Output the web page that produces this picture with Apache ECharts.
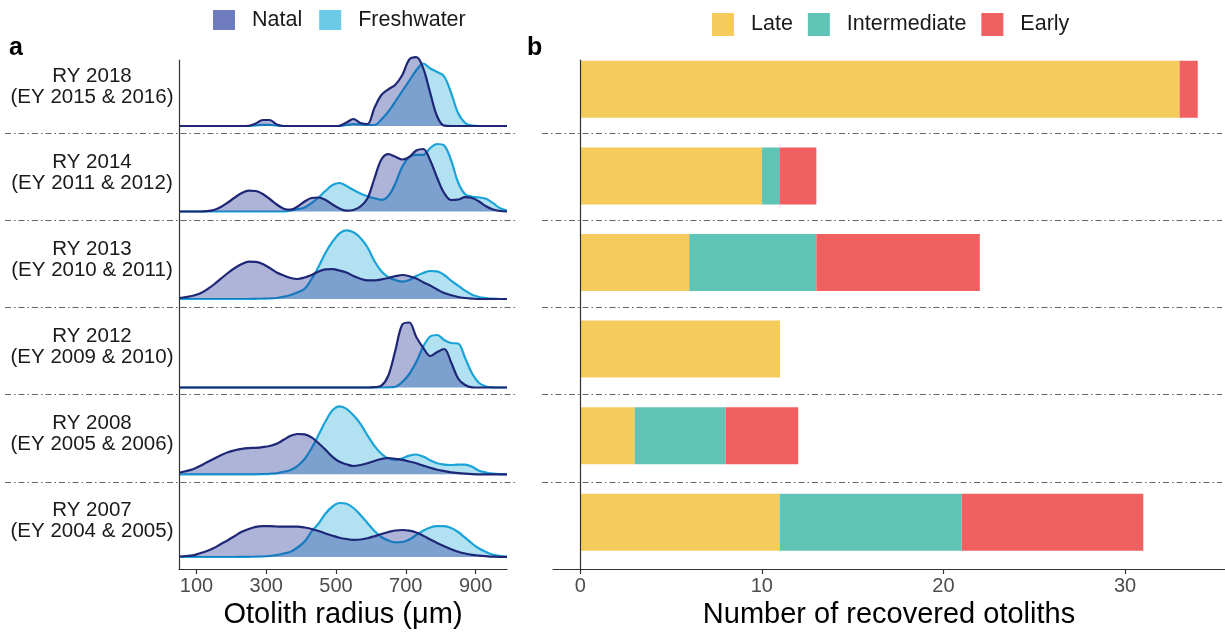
<!DOCTYPE html>
<html><head><meta charset="utf-8">
<script src="https://cdn.jsdelivr.net/npm/echarts@6/dist/echarts.min.js"></script>
<style>html,body{margin:0;padding:0;background:#fff}#c{width:1225px;height:635px}</style>
</head><body><div id="c"></div>
<script>
// ---------------- DATA ----------------
const rowLabels = [
  'RY 2018\n(EY 2015 & 2016)',
  'RY 2014\n(EY 2011 & 2012)',
  'RY 2013\n(EY 2010 & 2011)',
  'RY 2012\n(EY 2009 & 2010)',
  'RY 2008\n(EY 2005 & 2006)',
  'RY 2007\n(EY 2004 & 2005)'
];
const radiusTicks = [100, 300, 500, 700, 900];
const countTicks = [0, 10, 20, 30];
// otolith radius grid (µm) at which the densities were read
const radius = [50,70,90,110,130,150,170,190,210,230,250,270,290,310,330,350,370,390,410,430,450,470,490,510,530,550,570,590,610,630,650,670,690,710,730,750,770,790,810,830,850,870,890,910,930,950,970,990];

// relative density heights
const natal2018 = [0,0,0,0,0,0,0,0,0,0, 0.2,2.5,6,6,1.5,0,0,0,0,0, 0,0,0,0.2,3.5,7,3,2,18,31, 36.7,41.3,51,66.5,68.8,57.7,33,9.5,0.3,0, 0,0,0,0,0,0,0,0];
const fresh2018 = [0,0,0,0,0,0,0,0,0,0,0, 0.5,1.2,1.2,0.3, 0,0,0,0,0,0,0,0,0, 1,2,1.5,1,1,6.5,14.3,24.5,35,45.3,55.7,62.5,57.5,54,49.5,33,12.7,3,0.3, 0,0,0,0,0];
const natal2014 = [0,0,0,0,0.3,1.5,4.5,9,14,18.5, 20.8,20.5,17.5,12.5,7,2.8,1.8,5,10,13.5, 14,11.5,7,3,0.8,1.5,5,13,33,52, 57.3,54.8,52,54.5,61,62.5,51,33.5,18.5,11.5, 12,14.3,13.5,10,5.2,2,0.5,0];
const fresh2014 = [0,0,0,0,0,0,0,0,0,0,0,0,0,0, 0,0,1,2.3,4,8.5,14,20.7,26.5,28.5, 25.5,21.5,18,15.3,13.3,11.7,15.5,28,45,54.5, 56.7,56.7,63.5,67.5,66,51,29,17.3,14.8,14, 12.7,8.3,3.3,1];
const natal2013 = [1,2,3.3,5.5,9.5,14.5,20.3,26,31,35, 37.3,37.2,35,31,26.5,23.5,21,20,21.5,24, 27.5,29.7,29.8,28.5,26.5,23,20.3,18.6,18.7,19.6, 21,22.8,24,22.8,20.5,16.8,13.5,9.5,6,3.8, 2,1,0.4,0,0,0,0,0];
const fresh2013 = [0,0,0,0,0,0,0,0,0,0, 0,0.2,0.3,0.5,1,2.3,4,6.7,10.3,20, 32.3,46.3,57.3,65.7,68.7,66.7,61,51.7,38,27.7, 21.7,19,17.3,19,23,26,28,27.7,24,18.3, 13.3,8.3,4.3,2,1,0.3,0,0];
const natal2012 = [0,0,0,0,0,0,0,0,0,0, 0,0,0,0,0,0,0,0,0,0, 0,0,0,0,0,0,0,0, 0.3,1.8,12,37,63,65,50.5,39.7,31.5,35.5,38.5,25,9,2.5,0.2, 0,0,0,0,0];
const fresh2012 = [0,0,0,0,0,0,0,0,0,0, 0,0,0,0,0,0,0,0,0,0, 0,0,0,0,0,0,0,0,0,0, 0.2,0.8,5.5,13.5,25.5,41,51,52.5,47.5,44.5, 44,29.5,14,4.5,1,0.2,0,0];
const natal2008 = [1.5,3.2,5,8.3,12,15.5,19,22,24,25.5, 26.2,26.5,27.2,28.3,30.5,34.5,38.5,40.3,40,37, 31,24.5,17.5,12.5,10,8.3,9.3,11,13.3,15.3, 16.3,15.5,14.4,12.8,11,8.7,6.5,4.6,3.2,2, 1.2,0.6,0.2,0,0,0,0,0];
const fresh2008 = [0,0,0,0,0,0,0,0,0,0,0,0, 0.2,0.5,1,2.5,4.3,8.5,15.3,26,39.5,53, 64,68,65.5,59,50.5,39,28.5,20.5,15.7,14.4, 16,18.7,19.8,17.7,14,11,9.6,9.3,9.7,9.7, 7.5,3.6,1.8,0.6,0.1,0];
const natal2007 = [0.5,1,1.7,3.7,6,9,13,16.8,21,25.3, 28,30.2,30.8,30.8,30.5,30.3,30.3,30.3,29.5,28, 26,23.5,21.3,19.3,18,17.2,17.5,18.8,20.8,23, 25,26.5,27,26.3,24.5,21.3,17.5,14,10.7,7.8, 5.3,3.5,2.2,1.4,0.8,0.3,0.1,0];
const fresh2007 = [0,0,0,0,0,0,0,0,0, 0.1,0.2,0.3,0.5,1,2,3.5,5.3,9.5,15.5, 25.5,33.5,43.5,50.5,54,53.2,49,42,34,26, 20,16.5,14.7,15,17.5,22,26.3,29.5,30.8,30.8, 29,25,19.3,13.5,8.5,5,2.3,1,0.3];

// recovered otoliths by migration timing
const late         = [33, 10, 6, 11, 3, 11];
const intermediate = [0, 1, 7, 0, 5, 10];
const early        = [1, 2, 9, 0, 4, 10];

// ---------------- CHART ----------------
const natalRows = [natal2018, natal2014, natal2013, natal2012, natal2008, natal2007];
const freshRows = [fresh2018, fresh2014, fresh2013, fresh2012, fresh2008, fresh2007];

const FONT = 'Liberation Sans, Arial, Helvetica, sans-serif';
const chart = echarts.init(document.getElementById('c'));

const grids = [], xAxes = [], yAxes = [], series = [];
function add(grid, x, y) {
  const i = grids.length;
  grids.push(grid);
  xAxes.push(Object.assign({ gridIndex: i }, x));
  yAxes.push(Object.assign({ gridIndex: i }, y));
  return i;
}
const axisCol = '#333333';

// row labels
add({ left: 179, width: 328, top: 43.1, height: 520.8 },
  { type: 'value', show: false },
  { type: 'category', data: rowLabels, inverse: true,
    axisLine: { show: false }, axisTick: { show: false },
    axisLabel: { margin: 87, align: 'center', fontSize: 20.5, lineHeight: 21, color: '#1a1a1a', fontFamily: FONT } });

// separators (dot-dash) panel a and b
const sepY = { type: 'value', min: 0, max: 6, interval: 1, inverse: true,
  axisLine: { show: false }, axisTick: { show: false }, axisLabel: { show: false },
  splitLine: { show: true, showMinLine: false, showMaxLine: false,
    lineStyle: { color: '#666', width: 1, type: [6, 3, 1.5, 3] } } };
add({ left: 5, width: 512, top: 45.8, height: 523.2 }, { type: 'value', show: false, min: 0, max: 1 }, sepY);
add({ left: 542, right: 3, top: 45.8, height: 523.2 }, { type: 'value', show: false, min: 0, max: 1 }, sepY);

// frame of panel a (axes)
add({ left: 179, width: 328, top: 60, height: 509 },
  { type: 'value', min: 50, max: 990, z: 10,
    axisLine: { lineStyle: { color: axisCol, width: 1.2 } },
    axisTick: { customValues: radiusTicks, length: 5, lineStyle: { color: axisCol, width: 1.2 } },
    axisLabel: { customValues: radiusTicks, fontSize: 20, color: '#4d4d4d', margin: 7, fontFamily: FONT },
    splitLine: { show: false },
    name: 'Otolith radius (\u03bcm)', nameLocation: 'middle', nameGap: 28,
    nameTextStyle: { fontSize: 29, color: '#000', fontFamily: FONT } },
  { type: 'value', min: 0, max: 1, z: 10,
    axisLine: { show: true, lineStyle: { color: axisCol, width: 1.2 } },
    axisTick: { show: false }, axisLabel: { show: false }, splitLine: { show: false } });

// ridges
const ridgeBase = [126, 211.5, 299, 387.5, 474.3, 557];
const RIDGE_H = 70;
for (let r = 0; r < 6; r++) {
  const g = add({ left: 179, width: 328, top: ridgeBase[r] - RIDGE_H, height: RIDGE_H },
    { type: 'value', min: 50, max: 990, show: false },
    { type: 'value', min: 0, max: RIDGE_H, show: false });
  series.push({
    type: 'line', name: 'Freshwater', xAxisIndex: g, yAxisIndex: g, clip: false,
    smooth: 0.35, symbol: 'none', silent: true, z: 3,
    lineStyle: { color: '#1aa3d6', width: 2.2 },
    areaStyle: { color: 'rgba(101,197,229,0.5)', opacity: 1 },
    data: radius.map((x, i) => [x, freshRows[r][i]])
  });
  series.push({
    type: 'line', name: 'Natal', xAxisIndex: g, yAxisIndex: g, clip: false,
    smooth: 0.35, symbol: 'none', silent: true, z: 4,
    lineStyle: { color: '#1e2676', width: 2.2 },
    areaStyle: { color: 'rgba(24,41,144,0.35)', opacity: 1 },
    data: radius.map((x, i) => [x, natalRows[r][i]])
  });
}

// bars panel b
const gb = add({ left: 553, right: 0, top: 46, height: 519.6 },
  { type: 'value', min: -1.5, max: 35.5, show: false },
  { type: 'category', data: rowLabels, inverse: true, show: false });
// legend swatches for panel a (empty)
series.unshift(
  { type: 'bar', name: 'Natal', xAxisIndex: gb, yAxisIndex: gb, stack: 'tot', barWidth: 57, data: [], itemStyle: { color: '#6f7dbf' } },
  { type: 'bar', name: 'Freshwater', xAxisIndex: gb, yAxisIndex: gb, stack: 'tot', barWidth: 57, data: [], itemStyle: { color: '#6ccae6' } }
);
const barDefs = [['Late', late, '#f5cb5e'], ['Intermediate', intermediate, '#5fc4b6'], ['Early', early, '#f06060']];
barDefs.forEach(([name, vals, col]) => {
  series.push({ type: 'bar', name, xAxisIndex: gb, yAxisIndex: gb, stack: 'tot', barWidth: 57,
    silent: true, itemStyle: { color: col }, data: vals });
});

// frame of panel b
add({ left: 553, right: 0, top: 60, height: 509 },
  { type: 'value', min: -1.5, max: 35.5, z: 10,
    axisLine: { lineStyle: { color: axisCol, width: 1.2 } },
    axisTick: { customValues: countTicks, length: 5, lineStyle: { color: axisCol, width: 1.2 } },
    axisLabel: { customValues: countTicks, fontSize: 20, color: '#4d4d4d', margin: 7, fontFamily: FONT },
    splitLine: { show: false },
    name: 'Number of recovered otoliths', nameLocation: 'middle', nameGap: 28,
    nameTextStyle: { fontSize: 29, color: '#000', fontFamily: FONT } },
  { type: 'value', min: 0, max: 1, z: 10,
    axisLine: { show: true, lineStyle: { color: axisCol, width: 1.2 } },
    axisTick: { show: false }, axisLabel: { show: false }, splitLine: { show: false } });

chart.setOption({
  animation: false,
  backgroundColor: '#ffffff',
  textStyle: { fontFamily: FONT },
  title: [
    { text: 'a', left: 4, top: 31, textStyle: { fontSize: 25, fontWeight: 'bold', color: '#000', fontFamily: FONT } },
    { text: 'b', left: 522, top: 31, textStyle: { fontSize: 25, fontWeight: 'bold', color: '#000', fontFamily: FONT } }
  ],
  legend: [
    { data: ['Natal', 'Freshwater'], left: 213, top: 9, padding: 0, icon: 'rect', itemWidth: 22, itemHeight: 20,
      itemGap: 17, selectedMode: false,
      textStyle: { fontSize: 21.5, color: '#1a1a1a', fontFamily: FONT, padding: [0, 0, 0, 12] } },
    { data: ['Late', 'Intermediate', 'Early'], left: 712, top: 13, padding: 0, icon: 'rect', itemWidth: 22, itemHeight: 23,
      itemGap: 15, selectedMode: false,
      textStyle: { fontSize: 21.5, color: '#1a1a1a', fontFamily: FONT, padding: [0, 0, 0, 12] } }
  ],
  grid: grids,
  xAxis: xAxes,
  yAxis: yAxes,
  series: series
});
</script>
</body></html>
